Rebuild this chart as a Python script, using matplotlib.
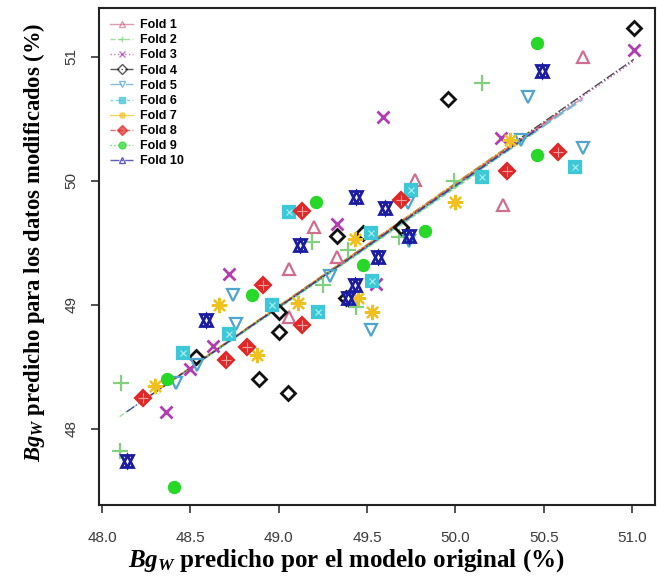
import numpy as np
import matplotlib
matplotlib.use('Agg')
import matplotlib.pyplot as plt
from matplotlib.lines import Line2D

plt.rcParams['font.family'] = ['Liberation Sans', 'DejaVu Sans']
plt.rcParams['mathtext.fontset'] = 'custom'
plt.rcParams['mathtext.it'] = 'Liberation Serif:italic:bold'
plt.rcParams['mathtext.rm'] = 'Liberation Serif:bold'
plt.rcParams['mathtext.bf'] = 'Liberation Serif:bold'

### Datos ###
folds = ['Fold 1', 'Fold 2', 'Fold 3', 'Fold 4', 'Fold 5',
         'Fold 6', 'Fold 7', 'Fold 8', 'Fold 9', 'Fold 10']

x1 = [50.72, 50.27, 49.77, 49.20, 49.06, 49.33, 49.06]
y1 = [51.00, 49.81, 50.01, 49.63, 49.29, 49.39, 48.90]
x2 = [50.15, 48.11, 48.10, 49.44, 49.25, 49.19, 49.68, 49.39, 49.99]
y2 = [50.79, 48.37, 47.82, 48.98, 49.16, 49.51, 49.55, 49.44, 50.00]
x3 = [51.01, 49.59, 50.26, 49.33, 48.72, 48.36, 48.63, 49.55, 48.50]
y3 = [51.06, 50.52, 50.35, 49.65, 49.25, 48.14, 48.67, 49.17, 48.48]
x4 = [51.01, 49.96, 49.33, 49.48, 49.69, 49.00, 49.00, 48.89, 49.05, 48.53, 49.38]
y4 = [51.23, 50.66, 49.56, 49.58, 49.63, 48.94, 48.78, 48.40, 48.29, 48.58, 49.06]
x5 = [50.41, 50.72, 50.37, 49.73, 49.74, 48.74, 48.76, 48.42, 48.54, 49.52, 49.29]
y5 = [50.68, 50.27, 50.33, 49.82, 49.52, 49.08, 48.85, 48.37, 48.52, 48.80, 49.23]
x6 = [50.68, 50.15, 49.75, 49.06, 49.52, 48.96, 49.22, 48.46, 48.72, 49.53]
y6 = [50.11, 50.03, 49.93, 49.75, 49.58, 49.00, 48.94, 48.61, 48.77, 49.19]
x7 = [50.00, 50.31, 49.43, 48.66, 48.30, 48.88, 49.11, 49.45, 49.53]
y7 = [49.83, 50.33, 49.53, 49.00, 48.35, 48.60, 49.02, 49.06, 48.94]
x8 = [50.58, 50.29, 49.69, 49.13, 48.91, 48.23, 48.70, 48.82, 49.13]
y8 = [50.23, 50.08, 49.85, 49.76, 49.16, 48.25, 48.56, 48.66, 48.84]
x9 = [50.46, 50.46, 49.83, 49.21, 48.85, 48.37, 48.41, 49.48]
y9 = [51.11, 50.21, 49.60, 49.83, 49.08, 48.40, 47.53, 49.32]
x10 = [50.49, 49.44, 49.12, 49.60, 49.74, 49.56, 49.43, 49.39, 48.59, 48.14]
y10 = [50.89, 49.87, 49.48, 49.78, 49.56, 49.39, 49.16, 49.06, 48.88, 47.74]

# recta ajustada de cada fold (pendiente, ordenada)
slopes = [0.980, 0.970, 0.985, 0.990, 0.975, 0.980, 0.990, 0.985, 0.975, 0.980]
intercepts = [0.962, 1.443, 0.722, 0.481, 1.203, 0.962, 0.481, 0.722, 1.203, 0.962]

xs = [x1, x2, x3, x4, x5, x6, x7, x8, x9, x10]
ys = [y1, y2, y3, y4, y5, y6, y7, y8, y9, y10]

xticks = [48.0, 48.5, 49.0, 49.5, 50.0, 50.5, 51.0]
yticks = [48, 49, 50, 51]

colors = ['#cf6f90', '#80d080', '#b23cb2', '#111111', '#4fa5cc',
          '#3cc8d6', '#f0c020', '#e02828', '#28d828', '#1c1ca0']
lstyles = ['-', '--', ':', '-.', (0, (8, 3)), (0, (2, 2, 6, 2)),
           '-', '--', ':', '-.']

fig = plt.figure(figsize=(6.57, 5.86), dpi=100)
ax = fig.add_axes([99/657, 81/586, 556/657, 497/586])

# rectas
for i in range(10):
    xx = np.array([min(xs[i]), max(xs[i])])
    ax.plot(xx, intercepts[i] + slopes[i]*xx, color=colors[i], ls=lstyles[i],
            lw=1.0, alpha=0.75, zorder=2)

ms = 9
mew = 1.6
ax.plot(x1, y1, ls='none', marker='^', ms=ms, mfc='none', mec=colors[0], mew=mew)
ax.plot(x2, y2, ls='none', marker='+', ms=ms+3, mec=colors[1], mew=mew)
ax.plot(x3, y3, ls='none', marker='x', ms=ms, mec=colors[2], mew=mew+0.4)
ax.plot(x4, y4, ls='none', marker='D', ms=ms-2, mfc='none', mec=colors[3], mew=mew+0.4)
ax.plot(x5, y5, ls='none', marker='v', ms=ms, mfc='none', mec=colors[4], mew=mew)
ax.plot(x6, y6, ls='none', marker='s', ms=ms-1, mfc=colors[5], mec=colors[5], mew=mew)
ax.plot(x6, y6, ls='none', marker='x', ms=ms-4, mec='#b0f0f4', mew=0.8)
ax.plot(x7, y7, ls='none', marker=(8, 2, 0), ms=ms+2, mec=colors[6], mew=mew)
ax.plot(x8, y8, ls='none', marker='D', ms=ms-1, mfc=colors[7], mec=colors[7], mew=mew)
ax.plot(x8, y8, ls='none', marker='+', ms=ms-2, mec='#f4a0a0', mew=0.8)
ax.plot(x9, y9, ls='none', marker='o', ms=ms-1, mfc=colors[8], mec=colors[8], mew=mew)
ax.plot(x10, y10, ls='none', marker='^', ms=ms, mfc='none', mec=colors[9], mew=mew+0.4)
ax.plot(x10, y10, ls='none', marker='v', ms=ms, mfc='none', mec=colors[9], mew=mew+0.4)

ax.set_xlim(47.983, 51.13)
ax.set_ylim(47.387, 51.395)
ax.set_xticks(xticks)
ax.set_xticklabels([f'{v:.1f}' for v in xticks])
ax.set_yticks(yticks)
ax.set_yticklabels([str(v) for v in yticks], rotation=90, va='center')
ax.tick_params(axis='both', direction='out', length=6, width=1.2,
               labelsize=11, labelcolor='#3a3a3a', color='#333333')
ax.tick_params(axis='x', pad=13)
ax.tick_params(axis='y', pad=9)
for s in ax.spines.values():
    s.set_linewidth(1.5)
    s.set_color('#222222')

# leyenda
handles = []
mk = ['^', '+', 'x', 'D', 'v', 's', (8, 2, 0), 'D', 'o', '^']
for i in range(10):
    filled = i in (5, 7, 8)
    handles.append(Line2D([0], [0], color=colors[i], ls=lstyles[i], lw=1.0,
                          marker=mk[i], ms=5, mec=colors[i],
                          mfc=colors[i] if filled else 'none', alpha=0.7))
leg = ax.legend(handles, folds, loc='upper left', frameon=False,
                prop={'weight': 'bold', 'size': 9}, handlelength=1.8,
                handletextpad=0.6, labelspacing=0.25, borderaxespad=0.6,
                borderpad=0.3)

fig.text(346/657, 1 - 561/586, r'$Bg_W$ predicho por el modelo original (%)',
         ha='center', va='center', fontsize=18, fontweight='bold',
         family='Liberation Serif')
fig.text(34/657, 1 - 242/586, r'$Bg_W$ predicho para los datos modificados (%)',
         ha='center', va='center', rotation=90, fontsize=16.3, fontweight='bold',
         family='Liberation Serif')

plt.savefig('out.png', dpi=100)
